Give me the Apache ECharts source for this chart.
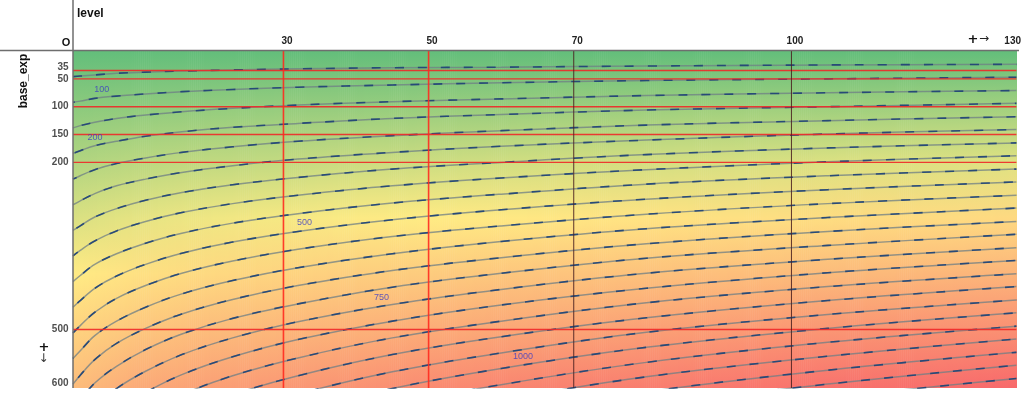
<!DOCTYPE html>
<html><head><meta charset="utf-8">
<script src="https://cdn.jsdelivr.net/npm/echarts@6/dist/echarts.min.js"></script>
<style>html,body{margin:0;padding:0;background:#fff;overflow:hidden}#c{width:1024px;height:393px}</style>
</head><body><div id="c"></div>
<script>
// ---- data ----
const contourLevels = [1, 2, 4, 7, 11, 16, 23, 32, 45, 60, 80, 105, 131];
const contourValues = [50,100,150,200,250,300,350,400,450,500,550,600,650,700,750,800,850,900,950,1000,1050,1100,1150,1200,1250];
const contourBase = [
  [46,45,43,40,38,36,34,32,30,29,27,25,24],
  [92,90,85,81,77,73,69,65,61,57,53,50,47],
  [138,134,128,121,115,109,103,97,91,86,80,75,71],
  [184,179,170,162,153,145,137,130,121,114,106,100,94],
  [230,224,213,202,192,182,172,162,152,143,133,125,118],
  [276,269,256,242,230,218,206,194,182,171,160,149,141],
  [322,314,298,283,268,254,240,227,212,200,186,174,165],
  [368,358,341,323,306,290,274,259,242,228,213,199,188],
  [414,403,383,364,345,327,309,292,273,257,239,224,212],
  [460,448,426,404,383,363,343,324,303,285,266,249,235],
  [506,493,469,444,421,399,377,356,333,314,293,274,259],
  [552,538,511,485,460,436,412,389,364,342,319,299,282],
  [598,582,554,525,498,472,446,421,394,371,346,324,306],
  [644,627,596,566,536,508,480,454,424,399,372,349,329],
  [690,672,639,606,575,545,515,486,455,428,399,374,353],
  [736,717,682,646,613,581,549,518,485,456,426,398,376],
  [782,762,724,687,651,617,583,551,515,485,452,423,400],
  [828,806,767,727,689,653,617,583,545,513,479,448,423],
  [874,851,809,768,728,690,652,616,576,542,505,473,447],
  [920,896,852,808,766,726,686,648,606,570,532,498,470],
  [966,941,895,848,804,762,720,680,636,599,559,523,494],
  [1012,986,937,889,843,799,755,713,667,627,585,548,517],
  [1058,1030,980,929,881,835,789,745,697,656,612,573,541],
  [1104,1075,1022,970,919,871,823,778,727,684,638,598,564],
  [1150,1120,1065,1010,958,908,858,810,758,713,665,623,588]
];
const heatLevels = [1, 10, 20, 30, 40, 50, 60, 70, 80, 90, 100, 110, 120, 131];
const heatBases = [0, 100, 200, 300, 400, 500, 605];
const heatScore = [
  [0,13,25,38,50,59,68],
  [0,14,28,42,54,64,75],
  [0,15,30,45,57,68,79],
  [0,16,31,47,59,70,82],
  [0,16,33,49,61,72,84],
  [0,17,34,50,62,74,87],
  [0,17,35,51,64,76,89],
  [0,18,36,52,65,77,91],
  [0,18,36,53,66,79,92],
  [0,19,37,54,67,80,94],
  [0,19,38,55,68,82,96],
  [0,19,39,56,69,83,97],
  [0,20,39,56,70,84,98],
  [0,20,40,57,71,85,100]
];
const labelTexts = ['100', '200', '500', '750', '1000'];
const labelLevels = [4.95, 4.03, 32.9, 43.5, 63.0];
const labelBases = [70, 155, 308, 442, 548];
const levelTicks = [30, 50, 70, 100, 130];
const baseTicks = [35, 50, 100, 150, 200, 500, 600];
const redLevelLines = [30, 50];
const darkLevelLines = [70, 100];
const baseLines = [35, 50, 100, 150, 200, 500];
const LEVEL_MIN = 1, LEVEL_MAX = 131, BASE_MIN = 0, BASE_MAX = 605;

// ---- colour scale (green - yellow - red) ----
const C_LOW = [99,190,123], C_MID = [255,235,132], C_HIGH = [248,105,107];
function scoreRGB(s) {
  const t = s / 100;
  let a, b, f;
  if (t <= 0.5) { a = C_LOW; b = C_MID; f = t / 0.5; } else { a = C_MID; b = C_HIGH; f = (t - 0.5) / 0.5; }
  return a.map((v, i) => v + (b[i] - v) * f);
}
function rgbStr(c) { return 'rgb(' + c.map(v => Math.round(v)).join(',') + ')'; }

const chart = echarts.init(document.getElementById('c'), null, {renderer: 'canvas'});
const FONT = "'Liberation Sans', Arial, sans-serif";
const ARROW_FONT = "'DejaVu Sans', sans-serif";

const heatData = heatLevels.slice(0, -1).map((L, i) => [i]);
function renderHeat(params, api) {
  const i = api.value(0);
  const L0 = heatLevels[i], L1 = heatLevels[i + 1];
  const pTop = api.coord([L0, BASE_MIN]);
  const pBot = api.coord([L0, BASE_MAX]);
  const x0 = api.coord([L0, 0])[0], x1 = api.coord([L1, 0])[0];
  const n = Math.max(1, Math.ceil((x1 - x0) / 2));
  const children = [];
  for (let s = 0; s < n; s++) {
    const f = (s + 0.5) / n;
    const stops = heatBases.map((b, j) => {
      const c0 = scoreRGB(heatScore[i][j]), c1 = scoreRGB(heatScore[i + 1][j]);
      return {offset: (b - BASE_MIN) / (BASE_MAX - BASE_MIN), color: rgbStr(c0.map((v, k) => v + (c1[k] - v) * f))};
    });
    const xa = x0 + (x1 - x0) * s / n;
    const xb = x0 + (x1 - x0) * (s + 1) / n;
    children.push({
      type: 'rect',
      shape: {x: xa, y: pTop[1], width: xb - xa + 0.6, height: pBot[1] - pTop[1]},
      style: {fill: new echarts.graphic.LinearGradient(0, 0, 0, 1, stops)},
      silent: true
    });
  }
  return {type: 'group', children: children};
}

const series = [];
series.push({
  type: 'custom', renderItem: renderHeat, data: heatData, z: 1, silent: true,
  encode: {x: -1, y: -1}, clip: true
});
contourValues.forEach((v, k) => {
  const pts = contourLevels.map((L, j) => [L, contourBase[k][j]]);
  series.push({
    type: 'line', name: String(v), z: 3, silent: true, symbol: 'none', smooth: 0.35,
    data: pts, lineStyle: {color: '#6f7f86', width: 1.5, opacity: 0.75}, clip: true
  });
  series.push({
    type: 'line', z: 3, silent: true, symbol: 'none', smooth: 0.35,
    data: pts, lineStyle: {color: '#1e4275', width: 1.6, opacity: 0.9, type: [9, 14], dashOffset: k * 7}, clip: true
  });
});
baseLines.forEach(b => {
  series.push({
    type: 'line', z: 4, silent: true, symbol: 'none',
    data: [[LEVEL_MIN, b], [LEVEL_MAX, b]],
    lineStyle: {color: '#f02828', width: 1.4, opacity: 0.9}
  });
});
redLevelLines.forEach(L => {
  series.push({
    type: 'line', z: 4, silent: true, symbol: 'none',
    data: [[L, BASE_MIN], [L, BASE_MAX]],
    lineStyle: {color: '#ff2a1f', width: 1.6, opacity: 0.9}
  });
});
darkLevelLines.forEach(L => {
  series.push({
    type: 'line', z: 4, silent: true, symbol: 'none',
    data: [[L, BASE_MIN], [L, BASE_MAX]],
    lineStyle: {color: '#4a2020', width: 1, opacity: 0.9}
  });
});
series.push({
  type: 'scatter', z: 6, silent: true, symbolSize: 1,
  itemStyle: {color: 'transparent'},
  data: labelTexts.map((t, i) => [labelLevels[i], labelBases[i], t]),
  label: {show: true, position: 'inside', formatter: p => p.value[2], color: '#3b3bc4', fontSize: 9, fontFamily: FONT}
});
// y tick labels (35 and 600 nudged like the source so they do not collide / clip)
const yLabelNudge = {35: -3.5, 600: -2};
series.push({
  type: 'scatter', z: 6, silent: true, symbolSize: 1, clip: false,
  itemStyle: {color: 'transparent'},
  data: baseTicks.map(b => ({value: [LEVEL_MIN, b], label: {offset: [0, yLabelNudge[b] || 0]}})),
  label: {show: true, position: 'left', distance: 4, formatter: p => String(p.value[1]),
    color: '#222', fontSize: 10, fontWeight: 'bold', fontFamily: FONT}
});

chart.setOption({
  animation: false,
  backgroundColor: '#ffffff',
  grid: {left: 73, right: 5, top: 51, bottom: 5, containLabel: false},
  xAxis: {
    type: 'value', position: 'top', min: LEVEL_MIN, max: LEVEL_MAX,
    axisLine: {show: false}, axisTick: {show: false}, splitLine: {show: false},
    axisLabel: {
      customValues: levelTicks, margin: 5, color: '#222',
      formatter: v => '{t|' + v + '}',
      rich: {t: {fontSize: 10, fontWeight: 'bold', fontFamily: FONT, color: '#222', padding: [0, 0, 0, 7]}}
    }
  },
  yAxis: {
    type: 'value', inverse: true, min: BASE_MIN, max: BASE_MAX,
    axisLine: {show: false}, axisTick: {show: false}, splitLine: {show: false},
    axisLabel: {show: false}
  },
  graphic: [
    {type: 'line', shape: {x1: 0, y1: 50.5, x2: 1019, y2: 50.5}, style: {stroke: '#6e6e6e', lineWidth: 1.5}, z: 100},
    {type: 'line', shape: {x1: 73, y1: 0, x2: 73, y2: 388}, style: {stroke: '#6e6e6e', lineWidth: 1.5}, z: 100},
    {type: 'text', left: 77, top: 8, style: {text: 'level', fontSize: 12, fontWeight: 'bold', fontFamily: FONT, fill: '#111'}},
    {type: 'text', x: 24, y: 81, rotation: Math.PI / 2, style: {text: 'base_exp', fontSize: 12, fontWeight: 'bold', fontFamily: FONT, fill: '#111', align: 'center', verticalAlign: 'middle'}},
    {type: 'text', x: 66, y: 43, style: {text: 'O', fontSize: 11, fontWeight: 'bold', fontFamily: FONT, fill: '#111', align: 'center', verticalAlign: 'middle'}},
    {type: 'text', x: 973, y: 40, style: {text: '+', fontSize: 13, fontWeight: 'bold', fontFamily: ARROW_FONT, fill: '#111', align: 'center', verticalAlign: 'middle'}},
    {type: 'text', x: 984, y: 39, style: {text: '→', fontSize: 12, fontFamily: ARROW_FONT, fill: '#222', align: 'center', verticalAlign: 'middle'}},
    {type: 'text', x: 44, y: 348, style: {text: '+', fontSize: 13, fontWeight: 'bold', fontFamily: ARROW_FONT, fill: '#111', align: 'center', verticalAlign: 'middle'}},
    {type: 'text', x: 43.5, y: 359, style: {text: '↓', fontSize: 12, fontFamily: ARROW_FONT, fill: '#333', align: 'center', verticalAlign: 'middle'}}
  ],
  series: series
});
</script></body></html>
